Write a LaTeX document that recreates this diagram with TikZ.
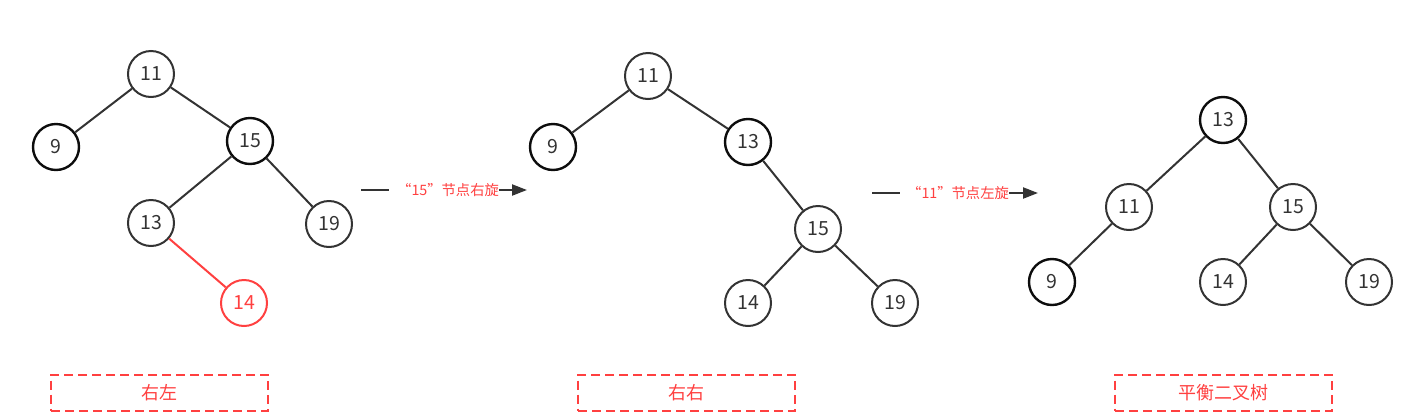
\documentclass[tikz,border=0pt]{standalone}
\usepackage{fontspec}
\setmainfont{Noto Sans CJK SC}
\usetikzlibrary{arrows.meta}
\definecolor{rd}{RGB}{255,64,64}
\definecolor{gr}{RGB}{51,51,51}
\tikzset{
  nd/.style={circle,draw=gr,line width=2pt,minimum size=46pt,inner sep=0pt,text=gr,font=\fontsize{19.5}{19.5}\selectfont},
  dk/.style={draw=black!95,line width=2.4pt},
  rn/.style={draw=rd,text=rd},
  ed/.style={draw=gr,line width=2pt},
  red/.style={draw=rd,line width=2pt},
  lbox/.style={draw=rd,dash pattern=on 9pt off 5pt,line width=2pt,minimum width=217pt,minimum height=36pt,inner sep=0pt,text=rd,font=\fontsize{18}{18}\selectfont},
  alab/.style={text=rd,font=\fontsize{14.3}{14.3}\selectfont,inner sep=0pt},
  arr/.style={draw=gr,line width=2.2pt},
  ahead/.style={-{Triangle[length=15pt,width=11pt]}},
}
\begin{document}
\begin{tikzpicture}[x=1pt,y=-1pt]
\useasboundingbox (0,0) rectangle (1416,413);
% tree 1
\node[nd] (a11) at (151,74) {11};
\node[nd,dk] (a9) at (56,147) {9};
\node[nd,dk] (a15) at (250,141) {15};
\node[nd] (a13) at (151,223) {13};
\node[nd] (a19) at (329,224) {19};
\node[nd,rn] (a14) at (244,303) {14};
\draw[ed] (a11) -- (a9);
\draw[ed] (a11) -- (a15);
\draw[ed] (a15) -- (a13);
\draw[ed] (a15) -- (a19);
\draw[red] (a13) -- (a14);
% tree 2
\node[nd] (b11) at (648,76) {11};
\node[nd,dk] (b9) at (553,147) {9};
\node[nd,dk] (b13) at (748,142) {13};
\node[nd] (b15) at (818,229) {15};
\node[nd] (b14) at (748,303) {14};
\node[nd] (b19) at (895,303) {19};
\draw[ed] (b11) -- (b9);
\draw[ed] (b11) -- (b13);
\draw[ed] (b13) -- (b15);
\draw[ed] (b15) -- (b14);
\draw[ed] (b15) -- (b19);
% tree 3
\node[nd,dk] (c13) at (1223,120) {13};
\node[nd] (c11) at (1129,207) {11};
\node[nd] (c15) at (1293,207) {15};
\node[nd,dk] (c9) at (1052,282) {9};
\node[nd] (c14) at (1223,282) {14};
\node[nd] (c19) at (1369,282) {19};
\draw[ed] (c13) -- (c11);
\draw[ed] (c13) -- (c15);
\draw[ed] (c11) -- (c9);
\draw[ed] (c15) -- (c14);
\draw[ed] (c15) -- (c19);
% arrows
\coordinate (s1) at (361,190);
\coordinate (e1) at (527,190);
\node[alab,anchor=west] (l1) at (397,190) {“15”节点右旋};
\draw[arr] (s1) -- (389,190);
\draw[arr,ahead] (l1.east) -- (e1);
\coordinate (s2) at (872,193);
\coordinate (e2) at (1038,193);
\node[alab,anchor=west] (l2) at (907,193) {“11”节点左旋};
\draw[arr] (s2) -- (900,193);
\draw[arr,ahead] (l2.east) -- (e2);
% boxes
\node[lbox] (x1) at (159.5,392.5) {右左};
\node[lbox] (x2) at (686.5,392.5) {右右};
\node[lbox] (x3) at (1223.5,392.5) {平衡二叉树};
\end{tikzpicture}
\end{document}
